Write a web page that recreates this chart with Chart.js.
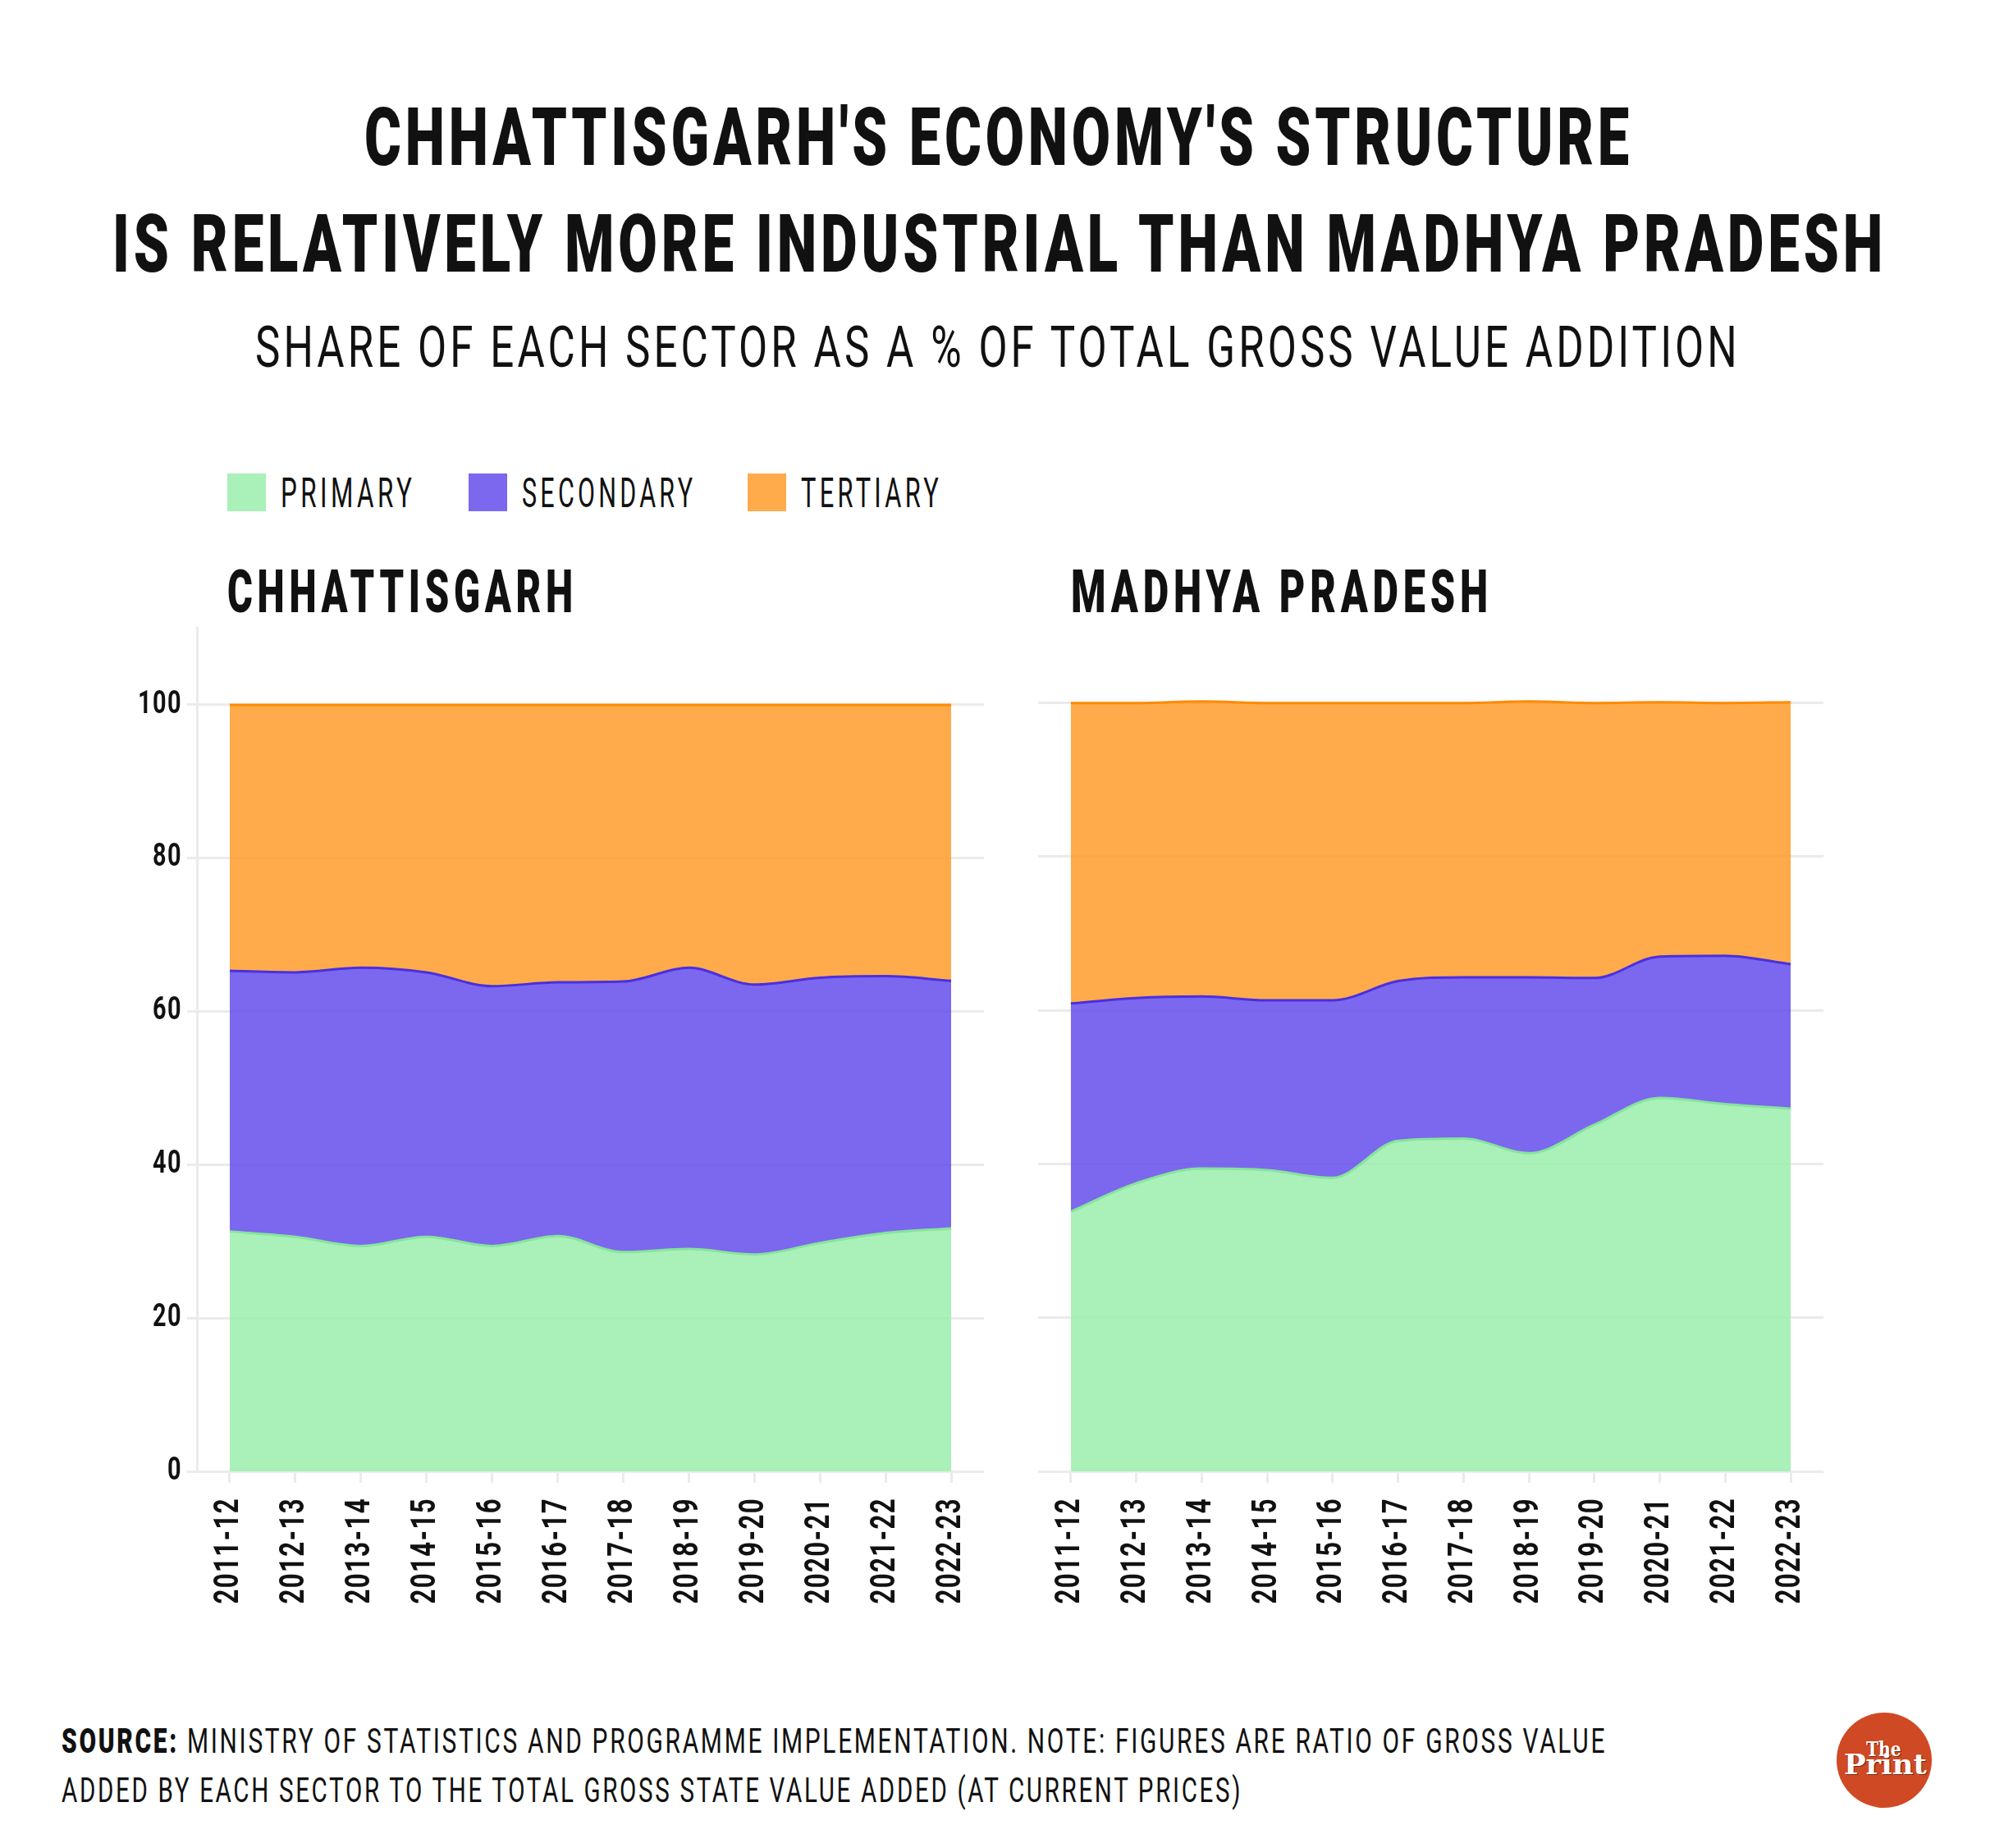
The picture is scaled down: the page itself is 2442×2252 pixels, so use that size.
<!DOCTYPE html>
<html>
<head>
<meta charset="utf-8">
<script src="https://cdn.jsdelivr.net/npm/chart.js@4.4.0/dist/chart.umd.min.js"></script>
<style>
  body { margin: 0; background: #fff; }
  #page { position: relative; width: 2442px; height: 2252px; overflow: hidden; background: #fff; }
  .txt { position: absolute; white-space: nowrap; line-height: 1; font-family: Roboto, sans-serif; color: #111; transform-origin: 0 0; }
  .title { font-size: 98px; font-weight: 900; letter-spacing: 0.07em; }
  .sub { font-size: 70px; font-weight: 400; letter-spacing: 0.08em; }
  .leg { font-size: 50px; font-weight: 400; letter-spacing: 0.14em; }
  .panel { font-size: 73px; font-weight: 900; letter-spacing: 0.12em; }
  .foot { font-size: 42px; font-weight: 400; letter-spacing: 0.09em; }
  .foot b { font-weight: 900; }
  .box { position: absolute; width: 47px; height: 46px; }
  .wrap { position: absolute; }
  #logo { position: absolute; left: 2238px; top: 2087px; width: 116px; height: 116px; border-radius: 50%; background: #cf4a24; }
  .logo { position: absolute; white-space: nowrap; line-height: 1; font-family: "DejaVu Serif", serif; font-weight: bold; color: #fff; transform-origin: 0 0; text-shadow: 1px 1px 0 #7a2410; }
</style>
</head>
<body>
<div id="page">
  <div class="txt title" style="left:444px;top:119px" data-w="1546">CHHATTISGARH'S ECONOMY'S STRUCTURE</div>
  <div class="txt title" style="left:137px;top:249px" data-w="2162">IS RELATIVELY MORE INDUSTRIAL THAN MADHYA PRADESH</div>
  <div class="txt sub" style="left:311px;top:388px" data-w="1810">SHARE OF EACH SECTOR AS A % OF TOTAL GROSS VALUE ADDITION</div>

  <div class="box" style="left:277px;top:577px;background:#aaf0b9"></div>
  <div class="txt leg" style="left:342px;top:576px" data-w="164">PRIMARY</div>
  <div class="box" style="left:571px;top:577px;background:#7b68ee"></div>
  <div class="txt leg" style="left:636px;top:576px" data-w="212">SECONDARY</div>
  <div class="box" style="left:911px;top:577px;background:#ffab4c"></div>
  <div class="txt leg" style="left:976px;top:576px" data-w="172">TERTIARY</div>

  <div class="txt panel" style="left:277px;top:685px" data-w="427">CHHATTISGARH</div>
  <div class="txt panel" style="left:1305px;top:685px" data-w="514">MADHYA PRADESH</div>

  <div class="wrap" style="left:150px;top:740px;width:1070px;height:1260px"><canvas id="cgChart"></canvas></div>
  <div class="wrap" style="left:1240px;top:740px;width:1010px;height:1260px"><canvas id="mpChart"></canvas></div>

  <div class="txt foot" style="left:75px;top:2101px" data-w="1883"><b>SOURCE:</b> MINISTRY OF STATISTICS AND PROGRAMME IMPLEMENTATION. NOTE: FIGURES ARE RATIO OF GROSS VALUE</div>
  <div class="txt foot" style="left:75px;top:2161px" data-w="1439">ADDED BY EACH SECTOR TO THE TOTAL GROSS STATE VALUE ADDED (AT CURRENT PRICES)</div>

  <div id="logo"></div>
  <div class="logo" style="left:2274px;top:2119px;font-size:25px" data-w="43">The</div>
  <div class="logo" style="left:2247px;top:2133px;font-size:34px" data-w="101">Print</div>
</div>

<script>
// values (% of GVA)
var years = ['2011-12', '2012-13', '2013-14', '2014-15', '2015-16', '2016-17',
             '2017-18', '2018-19', '2019-20', '2020-21', '2021-22', '2022-23'];
var cgPrimary   = [31.3, 30.6, 29.4, 30.6, 29.4, 30.7, 28.6, 29.0, 28.3, 29.8, 31.1, 31.7];
var cgSecondary = [34.0, 34.5, 36.3, 34.5, 33.9, 33.1, 35.3, 36.7, 35.2, 34.6, 33.5, 32.3];
var cgTertiary  = [34.7, 34.9, 34.3, 34.9, 36.7, 36.2, 36.1, 34.3, 36.5, 35.6, 35.4, 36.0];
var mpPrimary   = [33.8, 37.5, 39.4, 39.2, 38.2, 43.0, 43.3, 41.4, 45.1, 48.6, 47.8, 47.2];
var mpSecondary = [27.1, 24.1, 22.4, 22.1, 23.1, 20.8, 21.0, 22.9, 19.1, 18.4, 19.3, 18.8];
var mpTertiary  = [39.1, 38.4, 38.4, 38.7, 38.7, 36.2, 35.7, 35.9, 35.8, 33.1, 32.9, 34.1];
var yTicks = [0, 20, 40, 60, 80, 100];
var yMax = 110;

var gridColor = '#ebebeb';

// squeeze canvas text so it looks like the condensed font of the original
var condense = {
    id: 'condense',
    beforeDraw: function(chart, args, opts) {
        var ctx = chart.ctx;
        var fillText = CanvasRenderingContext2D.prototype.fillText;
        ctx.fillText = function(text, x, y) {
            ctx.letterSpacing = '2px';
            fillText.call(ctx, text, x, y, ctx.measureText(text).width * opts.factor);
        };
    },
    afterDraw: function(chart) {
        delete chart.ctx.fillText;
    }
};

function crearGrafica(id, primary, secondary, tertiary, showY, pad) {
    var ctx = document.getElementById(id);
    return new Chart(ctx, {
        type: 'line',
        data: {
            labels: years,
            datasets: [{
                label: 'PRIMARY',
                data: primary,
                fill: 'origin',
                backgroundColor: 'rgba(155, 237, 173, 0.85)',
                borderColor: '#86e59a',
                borderWidth: 3
            }, {
                label: 'SECONDARY',
                data: secondary,
                fill: '-1',
                backgroundColor: 'rgba(100, 77, 235, 0.85)',
                borderColor: '#4a2fe0',
                borderWidth: 3
            }, {
                label: 'TERTIARY',
                data: tertiary,
                fill: '-1',
                backgroundColor: 'rgba(255, 156, 44, 0.85)',
                borderColor: '#ff8a00',
                borderWidth: 3
            }]
        },
        options: {
            responsive: true,
            maintainAspectRatio: false,
            animation: false,
            layout: { padding: pad },
            elements: {
                point: { radius: 0 },
                line: { cubicInterpolationMode: 'monotone' }
            },
            plugins: {
                legend: { display: false },
                tooltip: { enabled: false },
                condense: { factor: 0.74 }
            },
            scales: {
                x: {
                    offset: true,
                    grid: { offset: false, drawOnChartArea: false, drawTicks: true, tickLength: 14, color: gridColor, lineWidth: 3 },
                    border: { display: false },
                    ticks: {
                        autoSkip: false, minRotation: 90, maxRotation: 90, padding: 18,
                        color: '#111', font: { family: 'Roboto', weight: 'bold', size: 42, lineHeight: 1 }
                    },
                    afterFit: function(scale) { scale.height = 207; }
                },
                y: {
                    stacked: true,
                    min: 0,
                    max: yMax,
                    afterBuildTicks: function(axis) {
                        axis.ticks = yTicks.map(function(v) { return { value: v }; });
                    },
                    grid: { color: gridColor, lineWidth: 3, drawTicks: showY, tickLength: 12 },
                    border: { display: showY, color: gridColor, width: 3 },
                    ticks: {
                        display: showY, padding: 6, color: '#111',
                        font: { family: 'Roboto', weight: 'bold', size: 39, lineHeight: 1 }
                    },
                    afterFit: function(scale) { scale.width = showY ? 90 : 0; }
                }
            }
        },
        plugins: [condense]
    });
}

function ajustarTextos() {
    document.querySelectorAll('[data-w]').forEach(function(el) {
        el.style.transform = 'none';
        var w = parseFloat(el.dataset.w);
        el.style.transform = 'scaleX(' + (w / el.offsetWidth) + ')';
    });
}

ajustarTextos();
crearGrafica('cgChart', cgPrimary, cgSecondary, cgTertiary, true, { top: 23, right: 21, left: 0, bottom: 0 });
crearGrafica('mpChart', mpPrimary, mpSecondary, mpTertiary, false, { top: 23, right: 28, left: 25, bottom: 0 });
document.fonts.ready.then(ajustarTextos);
</script>
</body>
</html>
